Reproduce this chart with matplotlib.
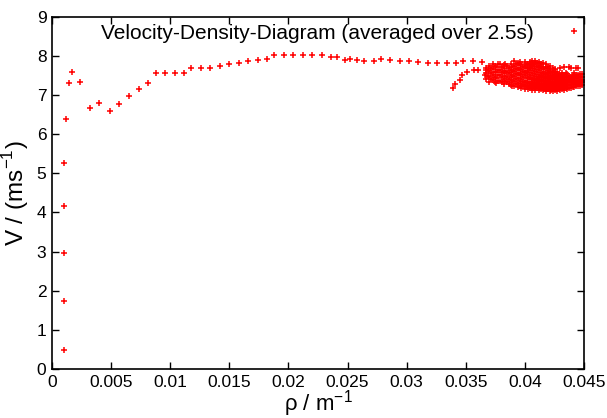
import matplotlib
matplotlib.use('Agg')
import matplotlib.pyplot as plt

plt.rcParams['font.family'] = ['Liberation Sans', 'DejaVu Sans']

# left column at low density
rise_x = [0.0010, 0.0010, 0.0010, 0.0010, 0.0010, 0.0012]
rise_v = [0.49, 1.74, 2.97, 4.17, 5.27, 6.39]

# main curve
curve_x = [0.0014, 0.0017, 0.0024, 0.0032, 0.0040, 0.0049, 0.0057, 0.0065,
           0.0074, 0.0081, 0.0088, 0.0096, 0.0104, 0.0112, 0.0118, 0.0126,
           0.0134, 0.0142, 0.0150, 0.0158, 0.0166, 0.0174, 0.0182, 0.0188,
           0.0196, 0.0204, 0.0212, 0.0220, 0.0228, 0.0236, 0.0241, 0.0248,
           0.0252, 0.0258, 0.0264, 0.0272, 0.0278, 0.0286, 0.0294, 0.0302,
           0.0310, 0.0318, 0.0326, 0.0334, 0.0342, 0.0348, 0.0356, 0.0364]
curve_v = [7.31, 7.58, 7.32, 6.68, 6.80, 6.60, 6.77, 6.98,
           7.15, 7.31, 7.55, 7.57, 7.57, 7.56, 7.69, 7.69,
           7.70, 7.74, 7.79, 7.83, 7.87, 7.90, 7.92, 8.03,
           8.03, 8.03, 8.03, 8.03, 8.01, 7.98, 7.96, 7.90,
           7.93, 7.90, 7.88, 7.87, 7.92, 7.90, 7.87, 7.87,
           7.85, 7.83, 7.83, 7.82, 7.82, 7.87, 7.86, 7.85]

# rising branch into the cluster
branch_x = [0.0339, 0.0341, 0.0345, 0.0347, 0.0351, 0.0357, 0.0360, 0.0367, 0.0366]
branch_v = [7.17, 7.28, 7.39, 7.50, 7.59, 7.64, 7.64, 7.65, 7.51]

# dense cluster at high density, column positions and values read per column
cluster_cols = [0.0367, 0.0370, 0.0373, 0.0376, 0.0379, 0.0382, 0.0385, 0.0388,
                0.0391, 0.0394, 0.0397, 0.0400, 0.0403, 0.0406, 0.0409, 0.0412,
                0.0415, 0.0418, 0.0421, 0.0424, 0.0427, 0.0430, 0.0433, 0.0436,
                0.0439, 0.0442, 0.0445, 0.0448]
cluster_vals = [
    [7.40, 7.56, 7.70],
    [7.33, 7.47, 7.62, 7.75],
    [7.38, 7.52, 7.66, 7.80],
    [7.30, 7.44, 7.58, 7.72],
    [7.36, 7.50, 7.64, 7.78],
    [7.28, 7.42, 7.55, 7.68, 7.76],
    [7.33, 7.46, 7.60, 7.73],
    [7.26, 7.38, 7.52, 7.65, 7.78],
    [7.22, 7.35, 7.48, 7.62, 7.74, 7.86],
    [7.20, 7.31, 7.44, 7.57, 7.70, 7.82],
    [7.18, 7.28, 7.40, 7.53, 7.66, 7.78],
    [7.16, 7.26, 7.37, 7.50, 7.62, 7.74, 7.84],
    [7.15, 7.24, 7.34, 7.46, 7.58, 7.70, 7.80],
    [7.14, 7.23, 7.33, 7.44, 7.56, 7.68, 7.80, 7.88],
    [7.13, 7.22, 7.31, 7.42, 7.54, 7.66, 7.78, 7.86],
    [7.12, 7.21, 7.30, 7.40, 7.51, 7.63, 7.75, 7.84],
    [7.12, 7.20, 7.29, 7.38, 7.48, 7.60, 7.72, 7.82],
    [7.11, 7.19, 7.28, 7.37, 7.46, 7.57, 7.68, 7.78],
    [7.11, 7.19, 7.27, 7.36, 7.45, 7.55, 7.66, 7.74],
    [7.10, 7.18, 7.26, 7.34, 7.43, 7.52, 7.62, 7.70],
    [7.10, 7.18, 7.26, 7.33, 7.41, 7.50, 7.58],
    [7.12, 7.20, 7.27, 7.34, 7.42, 7.50, 7.70],
    [7.14, 7.21, 7.28, 7.35, 7.43, 7.52, 7.71],
    [7.16, 7.23, 7.30, 7.37, 7.45, 7.53],
    [7.18, 7.25, 7.32, 7.39, 7.47, 7.70],
    [7.20, 7.27, 7.34, 7.41, 7.49, 7.56],
    [7.22, 7.29, 7.36, 7.43, 7.50, 7.70],
    [7.25, 7.32, 7.39, 7.46, 7.53],
]
# second, interleaved set of cluster columns
cluster_cols_b = [0.03685, 0.03715, 0.03745, 0.03775, 0.03805, 0.03835, 0.03865,
                  0.03895, 0.03925, 0.03955, 0.03985, 0.04015, 0.04045, 0.04075,
                  0.04105, 0.04135, 0.04165, 0.04195, 0.04225, 0.04255, 0.04285,
                  0.04315, 0.04345, 0.04375, 0.04405, 0.04435, 0.04465]
cluster_vals_b = [
    [7.48, 7.63],
    [7.40, 7.55, 7.69],
    [7.34, 7.45, 7.59, 7.73],
    [7.37, 7.51, 7.65, 7.79],
    [7.32, 7.46, 7.60, 7.71],
    [7.36, 7.49, 7.62, 7.80],
    [7.29, 7.41, 7.55, 7.68],
    [7.24, 7.32, 7.45, 7.58, 7.71],
    [7.27, 7.40, 7.54, 7.67, 7.79],
    [7.24, 7.37, 7.50, 7.63, 7.76, 7.85],
    [7.22, 7.33, 7.46, 7.59, 7.71],
    [7.20, 7.31, 7.43, 7.55, 7.68, 7.79],
    [7.19, 7.29, 7.40, 7.52, 7.64, 7.75, 7.85],
    [7.18, 7.27, 7.38, 7.49, 7.61, 7.73, 7.83],
    [7.17, 7.26, 7.36, 7.47, 7.59, 7.71, 7.81],
    [7.16, 7.25, 7.35, 7.45, 7.57, 7.69, 7.79],
    [7.15, 7.24, 7.33, 7.43, 7.54, 7.66],
    [7.15, 7.23, 7.32, 7.41, 7.51, 7.62, 7.72],
    [7.14, 7.23, 7.31, 7.40, 7.49, 7.59],
    [7.14, 7.22, 7.30, 7.38, 7.47, 7.56, 7.66],
    [7.15, 7.22, 7.30, 7.37, 7.45, 7.54],
    [7.16, 7.24, 7.31, 7.38, 7.46, 7.55],
    [7.18, 7.25, 7.32, 7.39, 7.47, 7.56],
    [7.19, 7.26, 7.34, 7.41, 7.49, 7.72],
    [7.21, 7.28, 7.36, 7.43, 7.51],
    [7.23, 7.30, 7.37, 7.45, 7.52, 7.69],
    [7.24, 7.31, 7.38, 7.46, 7.54],
]

cluster_x = []
cluster_v = []
for cols, rows in [(cluster_cols, cluster_vals), (cluster_cols_b, cluster_vals_b)]:
    for cx, vals in zip(cols, rows):
        for v in vals:
            cluster_x.append(cx)
            cluster_v.append(v)

xs = rise_x + curve_x + branch_x + cluster_x
vs = rise_v + curve_v + branch_v + cluster_v

fig = plt.figure(figsize=(6.07, 4.18), dpi=100)
ax = fig.add_axes([0.0857, 0.117, 0.8763, 0.843])

ax.plot(xs, vs, '+', color='red', markersize=5, mew=1.1,
        label='Velocity-Density-Diagram (averaged over 2.5s)')

ax.set_xlim(0, 0.045)
ax.set_ylim(0, 9)
ax.set_xticks([0, 0.005, 0.01, 0.015, 0.02, 0.025, 0.03, 0.035, 0.04, 0.045])
ax.set_xticklabels(['0', '0.005', '0.01', '0.015', '0.02', '0.025', '0.03',
                    '0.035', '0.04', '0.045'])
ax.set_yticks(range(10))
ax.tick_params(direction='in', top=True, right=True, length=5, width=1,
               labelsize=12.5, pad=4)
for s in ax.spines.values():
    s.set_linewidth(1.2)

ax.set_xlabel(r'$\mathregular{\rho}$ / m$^{\mathregular{-1}}$', fontsize=16, labelpad=-1)
ax.set_ylabel(r'V / (ms$^{\mathregular{-1}}$)', fontsize=17.5, labelpad=4)

ax.legend(loc='upper right', bbox_to_anchor=(1.0, 0.98), frameon=False,
          markerfirst=False, fontsize=15, handlelength=1.0, handletextpad=1.4,
          borderaxespad=0.0, borderpad=0.0)

fig.savefig('out.png', dpi=100)
